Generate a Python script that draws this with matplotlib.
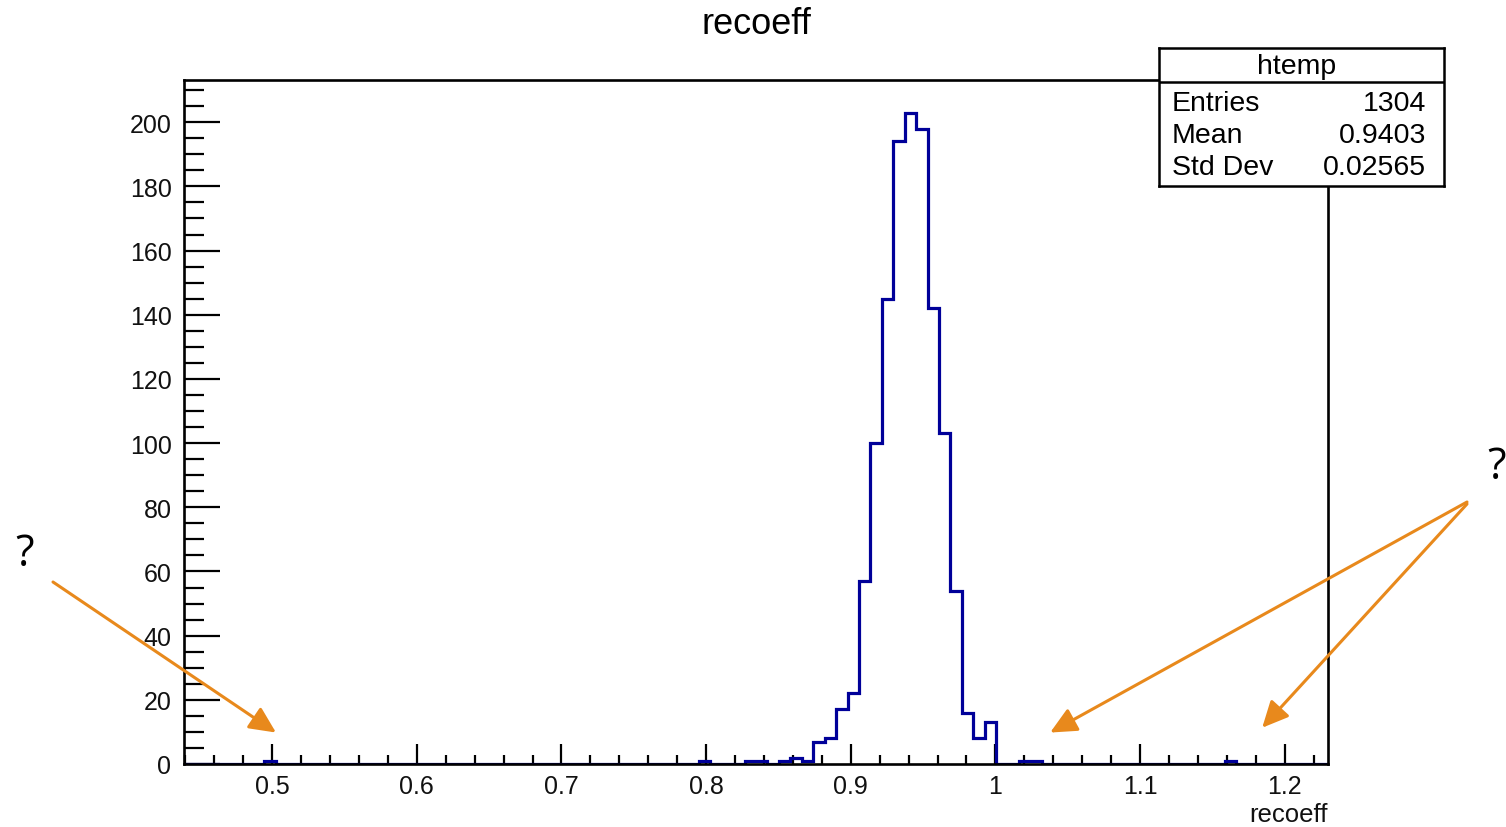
import numpy as np
import matplotlib
matplotlib.use("Agg")
import matplotlib.pyplot as plt
from matplotlib.ticker import MultipleLocator

# ---------------- data ----------------
title = "recoeff"
hist_name = "htemp"
x_label = "recoeff"
n_bins = 100
x_min, x_max = 0.4390, 1.2300
# non-empty bins (index into the 100 bins) and their contents
bin_index = [7, 45, 49, 50, 52, 53, 54, 55, 56, 57, 58, 59, 60, 61, 62, 63,
             64, 65, 66, 67, 68, 69, 70, 73, 74, 91]
bin_count = [1, 1, 1, 1, 1, 2, 1, 7, 8, 17, 22, 57, 100, 145, 194, 203,
             198, 142, 103, 54, 16, 8, 13, 1, 1, 1]
stat_labels = ["Entries", "Mean", "Std Dev"]
stat_values = ["1304", "0.9403", "0.02565"]
x_ticks = [0.5, 0.6, 0.7, 0.8, 0.9, 1.0, 1.1, 1.2]
x_tick_labels = ["0.5", "0.6", "0.7", "0.8", "0.9", "1", "1.1", "1.2"]
y_ticks = [0, 20, 40, 60, 80, 100, 120, 140, 160, 180, 200]
# annotation arrow tips (data coords)
arrow_tips = [(0.5026, 9.8), (1.0379, 9.8), (1.1845, 11.3)]

counts = np.zeros(n_bins)
for i, c in zip(bin_index, bin_count):
    counts[i] = c
edges = np.linspace(x_min, x_max, n_bins + 1)

# ---------------- figure ----------------
W, H = 1506, 828
plt.rcParams['font.family'] = ['Liberation Sans', 'DejaVu Sans']
fig = plt.figure(figsize=(W / 100, H / 100), dpi=100)

def fx(px):
    return px / W

def fy(py):
    return 1 - py / H

ax = fig.add_axes([fx(184), fy(765), fx(1328) - fx(184), fy(81) - fy(765)])
ax.stairs(counts, edges, color="#000099", lw=2.3, zorder=2)
ax.set_xlim(x_min, x_max)
ax.set_ylim(0, 1.05 * counts.max())

for s in ["top", "right", "left", "bottom"]:
    ax.spines[s].set_linewidth(1.9)
    ax.spines[s].set_color("black")

ax.set_xticks(x_ticks)
ax.set_xticklabels(x_tick_labels)
ax.set_yticks(y_ticks)
ax.xaxis.set_minor_locator(MultipleLocator(0.02))
ax.yaxis.set_minor_locator(MultipleLocator(5))
ax.tick_params(axis="x", which="major", direction="in", length=14.5, width=1.6,
               labelsize=18, pad=7, top=False)
ax.tick_params(axis="x", which="minor", direction="in", length=6.8, width=1.6, top=False)
ax.tick_params(axis="y", which="major", direction="in", length=26, width=1.6,
               labelsize=18, pad=9, right=False)
ax.tick_params(axis="y", which="minor", direction="in", length=14.5, width=1.6, right=False)
for lab in ax.get_xticklabels() + ax.get_yticklabels():
    lab.set_color("#111111")

ax.text(1.0, -50 / 684, x_label, transform=ax.transAxes, ha="right", va="center",
        fontsize=18.5, color="#111111")

fig.text(fx(756), fy(24), title, ha="center", va="center", fontsize=26, color="black")

# ---------------- stats box ----------------
bx0, by0, bx1, by1 = 1159, 49, 1444, 187
sax = fig.add_axes([fx(bx0), fy(by1), fx(bx1) - fx(bx0), fy(by0) - fy(by1)])
sax.set_xticks([])
sax.set_yticks([])
sax.set_xlim(0, 1)
sax.set_ylim(0, 1)
for s in sax.spines.values():
    s.set_linewidth(1.8)
    s.set_color("black")
sax.set_facecolor("white")
hdr = (by1 - 83) / (by1 - by0)
sax.axhline(hdr, color="black", lw=1.8)
sax.text((1297 - bx0) / (bx1 - bx0), (by1 - 67) / (by1 - by0), hist_name,
         ha="center", va="center", fontsize=20.5)
row_y = [104, 136, 168]
for lab, val, ry in zip(stat_labels, stat_values, row_y):
    yy = (by1 - ry) / (by1 - by0)
    sax.text((1172 - bx0) / (bx1 - bx0), yy, lab, ha="left", va="center", fontsize=20.5)
    sax.text((1426 - bx0) / (bx1 - bx0), yy, val, ha="right", va="center", fontsize=20.5)

# ---------------- annotations ----------------
orange = "#E8891C"
tails = [(fx(53), fy(583)), (fx(1467), fy(503)), (fx(1467), fy(505))]
for tip, tail in zip(arrow_tips, tails):
    ax.annotate("", xy=tip, xycoords="data", xytext=tail, textcoords="figure fraction",
                arrowprops=dict(arrowstyle="-|>,head_length=0.8,head_width=0.38",
                                color=orange, lw=2.2, mutation_scale=20,
                                shrinkA=0, shrinkB=0),
                annotation_clip=False, zorder=5)

fig.text(fx(25), fy(555), "?", ha="center", va="center", fontsize=31,
         family=["Open Sans", "DejaVu Sans"], color="black")
fig.text(fx(1497), fy(468), "?", ha="center", va="center", fontsize=31,
         family=["Open Sans", "DejaVu Sans"], color="black")

fig.savefig("out.png", dpi=100)
